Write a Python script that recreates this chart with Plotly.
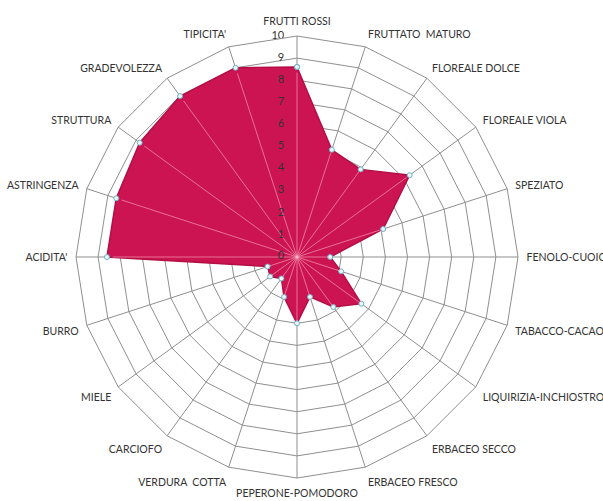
import plotly.graph_objects as go

categories = [
    "FRUTTI ROSSI", "FRUTTATO  MATURO", "FLOREALE DOLCE", "FLOREALE VIOLA",
    "SPEZIATO", "FENOLO-CUOIO", "TABACCO-CACAO", "LIQUIRIZIA-INCHIOSTRO",
    "ERBACEO SECCO", "ERBACEO FRESCO", "PEPERONE-POMODORO", "VERDURA  COTTA",
    "CARCIOFO", "MIELE", "BURRO", "ACIDITA'", "ASTRINGENZA", "STRUTTURA",
    "GRADEVOLEZZA", "TIPICITA'",
]
values = [8.6, 5.1, 4.9, 6.3, 4.1, 1.5, 2.1, 3.6, 2.8, 1.9,
          3.0, 1.9, 1.2, 1.5, 1.4, 8.6, 8.6, 8.8, 9.0, 9.0]
radial_ticks = list(range(0, 11))

W, H = 603, 501
cx, cy, R = 297, 257, 221

fig = go.Figure()
fig.add_trace(go.Scatterpolar(
    r=values + values[:1], theta=categories + categories[:1],
    mode="lines+markers", fill="toself", fillcolor="#CC1452",
    line=dict(color="#B30F45", width=1.5),
    marker=dict(size=5, color="#EAF6FA", line=dict(color="#6FAEC2", width=1)),
    hoverinfo="skip", showlegend=False,
))
# light spokes visible over the filled area
for c, v in zip(categories, values):
    fig.add_trace(go.Scatterpolar(
        r=[0, v * 0.97], theta=[c, c], mode="lines",
        line=dict(color="rgba(255,190,210,0.55)", width=1),
        hoverinfo="skip", showlegend=False,
    ))
fig.add_trace(go.Scatterpolar(
    r=[0], theta=[categories[0]], mode="markers",
    marker=dict(size=7, color="rgba(160,160,160,0.9)"),
    hoverinfo="skip", showlegend=False,
))

tickfont = dict(family="Lato, Open Sans, sans-serif", size=10.5, color="#333333")
numfont = dict(family="Lato, Open Sans, sans-serif", size=11, color="#333333")
# radial scale labels, left of the vertical axis (0 nudged off the exact centre
# so the polar renderer keeps it)
fig.add_trace(go.Scatterpolar(
    r=[t if t > 0 else 0.02 for t in radial_ticks],
    theta=[categories[0]] * len(radial_ticks),
    mode="text", text=[f"{t}\u2007\u2007" for t in radial_ticks],
    textposition="middle left", textfont=numfont, cliponaxis=False,
    hoverinfo="skip", showlegend=False,
))

fig.update_layout(
    width=W, height=H,
    margin=dict(l=0, r=0, t=0, b=0),
    paper_bgcolor="white",
    polar=dict(
        domain=dict(x=[(cx - R) / W, (cx + R) / W],
                    y=[(H - cy - R) / H, (H - cy + R) / H]),
        bgcolor="white",
        gridshape="linear",
        radialaxis=dict(range=[0, 10], tickvals=radial_ticks, angle=90,
                        showticklabels=False, showline=False,
                        gridcolor="#8f8f8f", gridwidth=1, ticks=""),
        angularaxis=dict(direction="clockwise", rotation=90,
                         gridcolor="#8f8f8f", linecolor="#8f8f8f",
                         showline=True, ticks="outside", ticklen=6,
                         tickcolor="rgba(0,0,0,0)", tickfont=tickfont),
    ),
)
fig.write_html("out.html", config={"displayModeBar": False},
               post_script="document.body.style.margin='0';document.body.style.overflow='hidden';")
